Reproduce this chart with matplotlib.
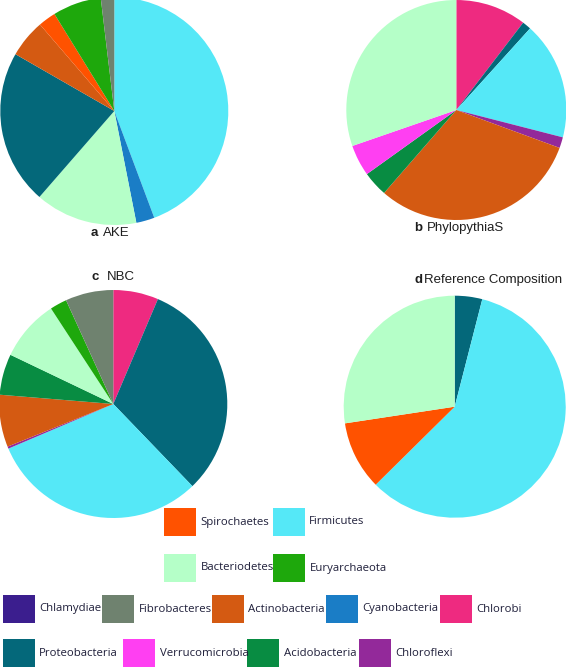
import matplotlib.pyplot as plt
from matplotlib.patches import Rectangle

# colours per phylum
colors = {
    'Spirochaetes': '#ff5200',
    'Firmicutes': '#55e8f7',
    'Bacteriodetes': '#b5ffc8',
    'Euryarchaeota': '#1ea80c',
    'Chlamydiae': '#3b1e8e',
    'Fibrobacteres': '#6f826f',
    'Actinobacteria': '#d45a12',
    'Cyanobacteria': '#1a7dc6',
    'Chlorobi': '#ee2a80',
    'Proteobacteria': '#04687a',
    'Verrucomicrobia': '#ff3ff2',
    'Acidobacteria': '#088c42',
    'Chloroflexi': '#93299a',
}

# pie data (percent), clockwise from 12 o'clock
ake_labels = ['Firmicutes', 'Cyanobacteria', 'Bacteriodetes', 'Proteobacteria',
              'Actinobacteria', 'Spirochaetes', 'Euryarchaeota', 'Fibrobacteres']
ake_values = [44.3, 2.6, 14.5, 21.9, 5.4, 2.5, 6.9, 1.9]

pps_labels = ['Chlorobi', 'Proteobacteria', 'Firmicutes', 'Chloroflexi',
              'Actinobacteria', 'Acidobacteria', 'Verrucomicrobia', 'Bacteriodetes']
pps_values = [10.4, 1.3, 17.3, 1.6, 30.8, 3.7, 4.6, 30.3]

nbc_labels = ['Chlorobi', 'Proteobacteria', 'Firmicutes', 'Chloroflexi',
              'Actinobacteria', 'Acidobacteria', 'Bacteriodetes', 'Euryarchaeota',
              'Fibrobacteres']
nbc_values = [6.4, 31.4, 30.8, 0.3, 7.4, 5.8, 8.7, 2.4, 6.8]

ref_labels = ['Proteobacteria', 'Firmicutes', 'Spirochaetes', 'Bacteriodetes']
ref_values = [4.0, 58.6, 10.0, 27.4]

legend_rows = [
    ['Spirochaetes', 'Firmicutes'],
    ['Bacteriodetes', 'Euryarchaeota'],
    ['Chlamydiae', 'Fibrobacteres', 'Actinobacteria', 'Cyanobacteria', 'Chlorobi'],
    ['Proteobacteria', 'Verrucomicrobia', 'Acidobacteria', 'Chloroflexi'],
]

W, H = 566, 667
fig = plt.figure(figsize=(W / 100, H / 100), dpi=100)


def pie_axes(cx, cy, r):
    # square axes in pixel coordinates (y measured from the top)
    return fig.add_axes([(cx - r) / W, (H - cy - r) / H, 2 * r / W, 2 * r / H])


panels = [
    (ake_labels, ake_values, (114.3, 111, 114)),
    (pps_labels, pps_values, (456.3, 110, 110)),
    (nbc_labels, nbc_values, (113.3, 404, 114)),
    (ref_labels, ref_values, (454.7, 406.7, 111)),
]
for labels, values, (cx, cy, r) in panels:
    ax = pie_axes(cx, cy, r)
    ax.pie(values, colors=[colors[l] for l in labels], startangle=90,
           counterclock=False, radius=1, wedgeprops={'linewidth': 0})
    ax.set_xlim(-1, 1)
    ax.set_ylim(-1, 1)
    ax.axis('off')


def ftext(x, y, s, **kw):
    fig.text(x / W, 1 - y / H, s, **kw)


title_font = dict(family='Liberation Sans', fontsize=9.5, va='center', color='#1e1e1e')
for (x1, x2, y, letter, name) in [(91, 103, 233, 'a', 'AKE'),
                                  (414.5, 427, 228.5, 'b', 'PhylopythiaS'),
                                  (91, 107, 277, 'c', 'NBC'),
                                  (414.5, 424, 280, 'd', 'Reference Composition')]:
    ftext(x1, y, letter, fontweight='bold', **title_font)
    ftext(x2, y, name, **title_font)

# legend, laid out by hand
row_y = [522, 568, 609, 653]
row_x = [[164, 272.7], [164, 273], [2.7, 102.3, 211.7, 325.7, 440], [2.7, 123.3, 247.3, 359]]
pw, ph = 32, 28
for names, xs, y in zip(legend_rows, row_x, row_y):
    for name, x in zip(names, xs):
        fig.add_artist(Rectangle((x / W, 1 - (y + ph / 2) / H), pw / W, ph / H,
                                 transform=fig.transFigure, facecolor=colors[name],
                                 edgecolor='none'))
        ftext(x + pw + 4.5, y, name, family='Open Sans', fontsize=8.2,
              va='center', color='#1f1f3a')

fig.savefig('out.png', dpi=100)
